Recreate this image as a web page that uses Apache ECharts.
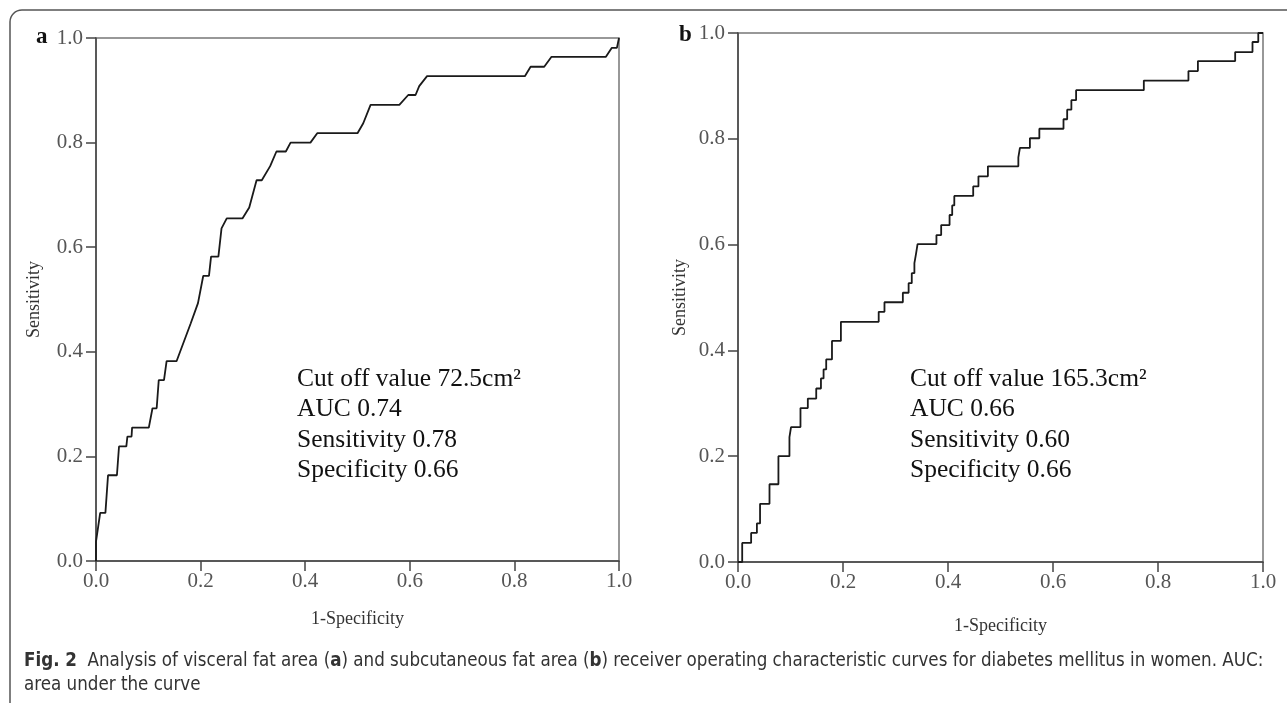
<!DOCTYPE html>
<html>
<head>
<meta charset="utf-8">
<script src="https://cdn.jsdelivr.net/npm/echarts@6/dist/echarts.min.js"></script>
<style>
  html, body { margin: 0; padding: 0; background: #fff; }
  #main { width: 1287px; height: 703px; }
</style>
</head>
<body>
<div id="main"></div>
<script>
// axis ticks, shared by both panels
var tickValues = [0, 0.2, 0.4, 0.6, 0.8, 1.0];

// panel a: visceral fat area ROC curve (1-specificity, sensitivity)
var rocAx = [0, 0, 0.008, 0.018, 0.023, 0.04, 0.044, 0.058, 0.06, 0.068, 0.069, 0.101, 0.108, 0.116,
  0.12, 0.13, 0.135, 0.154, 0.181, 0.195, 0.205, 0.216, 0.22, 0.234, 0.24, 0.25, 0.28, 0.293,
  0.307, 0.317, 0.333, 0.345, 0.363, 0.372, 0.41, 0.423, 0.5, 0.511, 0.525, 0.58, 0.597, 0.611,
  0.618, 0.633, 0.82, 0.831, 0.857, 0.871, 0.975, 0.986, 0.996, 1];
var rocAy = [0, 0.037, 0.092, 0.092, 0.164, 0.164, 0.219, 0.219, 0.238, 0.238, 0.255, 0.255, 0.292, 0.292,
  0.346, 0.346, 0.382, 0.382, 0.454, 0.493, 0.545, 0.545, 0.582, 0.582, 0.636, 0.655, 0.655, 0.676,
  0.728, 0.728, 0.755, 0.783, 0.783, 0.8, 0.8, 0.818, 0.818, 0.837, 0.872, 0.872, 0.891, 0.891,
  0.908, 0.927, 0.927, 0.945, 0.945, 0.964, 0.964, 0.981, 0.981, 1];

// panel b: subcutaneous fat area ROC curve, x where sensitivity steps up, and the new value
var rocBx = [0.008, 0.025, 0.036, 0.042, 0.06, 0.077, 0.098, 0.101, 0.119, 0.133, 0.149, 0.158, 0.163,
  0.168, 0.179, 0.196, 0.268, 0.279, 0.314, 0.325, 0.331, 0.336, 0.339, 0.342, 0.378, 0.387, 0.403,
  0.408, 0.412, 0.448, 0.458, 0.476, 0.534, 0.537, 0.556, 0.574, 0.62, 0.627, 0.635, 0.644, 0.773,
  0.858, 0.876, 0.947, 0.98, 0.991, 1.0];
var rocBy = [0.036, 0.055, 0.073, 0.110, 0.147, 0.2, 0.236, 0.255, 0.291, 0.309, 0.328, 0.347, 0.364,
  0.383, 0.418, 0.454, 0.473, 0.491, 0.509, 0.527, 0.546, 0.565, 0.582, 0.601, 0.618, 0.637, 0.656,
  0.674, 0.692, 0.71, 0.729, 0.748, 0.765, 0.783, 0.801, 0.819, 0.837, 0.855, 0.873, 0.892, 0.91,
  0.928, 0.947, 0.964, 0.983, 1.0, 1.0];

var statsA = ['Cut off value 72.5cm²', 'AUC 0.74', 'Sensitivity 0.78', 'Specificity 0.66'];
var statsB = ['Cut off value 165.3cm²', 'AUC 0.66', 'Sensitivity 0.60', 'Specificity 0.66'];

var ptsA = rocAx.map(function (x, i) { return [x, rocAy[i]]; });

// step corners for panel b
var ptsB = [[0, 0]];
var prev = 0;
rocBx.forEach(function (x, i) {
  ptsB.push([x, prev]);
  ptsB.push([x, rocBy[i]]);
  prev = rocBy[i];
});

var serif = '"Liberation Serif", "DejaVu Serif", serif';

function xAx(idx) {
  return {
    gridIndex: idx, type: 'value', min: 0, max: 1, interval: 0.2,
    name: '1-Specificity', nameLocation: 'middle', nameGap: idx === 0 ? 49 : 55,
    nameTextStyle: { fontFamily: serif, fontSize: 18, color: '#333' },
    axisLine: { lineStyle: { color: '#444', width: 1.5 } },
    axisTick: { length: 10, lineStyle: { color: '#444', width: 1.5 } },
    axisLabel: { margin: 10, fontFamily: serif, fontSize: 21, color: '#555',
      formatter: function (v) { return v.toFixed(1); } },
    splitLine: { show: false }
  };
}
function yAx(idx) {
  return {
    gridIndex: idx, type: 'value', min: 0, max: 1, interval: 0.2,
    name: 'Sensitivity', nameLocation: 'middle', nameGap: idx === 0 ? 53 : 49,
    nameTextStyle: { fontFamily: serif, fontSize: 18, color: '#333' },
    axisLine: { lineStyle: { color: '#444', width: 1.5 } },
    axisTick: { length: 10, lineStyle: { color: '#444', width: 1.5 } },
    axisLabel: { margin: 13, fontFamily: serif, fontSize: 21, color: '#555',
      formatter: function (v) { return v.toFixed(1); } },
    splitLine: { show: false }
  };
}

function statText(x, lines) {
  return {
    type: 'text', left: x, top: 364,
    style: { text: lines.join('\n'), font: '25.5px ' + serif, fill: '#111', lineHeight: 30.5 }
  };
}

var capFont = '"Liberation Sans Narrow", "DejaVu Sans Condensed", sans-serif';

var chart = echarts.init(document.getElementById('main'));
chart.setOption({
  animation: false,
  grid: [
    { left: 96, top: 38, width: 523, height: 523, show: true, borderColor: '#777', borderWidth: 1.5 },
    { left: 738, top: 33, width: 525, height: 529, show: true, borderColor: '#777', borderWidth: 1.5 }
  ],
  xAxis: [xAx(0), xAx(1)],
  yAxis: [yAx(0), yAx(1)],
  series: [
    { type: 'line', xAxisIndex: 0, yAxisIndex: 0, data: ptsA, showSymbol: false,
      lineStyle: { color: '#1a1a1a', width: 1.8 } },
    { type: 'line', xAxisIndex: 1, yAxisIndex: 1, data: ptsB, showSymbol: false,
      lineStyle: { color: '#1a1a1a', width: 1.8 } }
  ],
  graphic: [
    { type: 'rect', shape: { x: 10, y: 10, width: 1320, height: 740, r: 12 },
      style: { fill: 'none', stroke: '#555', lineWidth: 1.5 } },
    { type: 'text', left: 36, top: 26, style: { text: 'a', font: 'bold 23px ' + serif, fill: '#111' } },
    { type: 'text', left: 679, top: 24, style: { text: 'b', font: 'bold 23px ' + serif, fill: '#111' } },
    statText(297, statsA),
    statText(910, statsB),
    { type: 'text', left: 24, top: 649,
      style: {
        text: '{b|Fig. 2}  Analysis of visceral fat area ({b|a}) and subcutaneous fat area ({b|b}) receiver operating characteristic curves for diabetes mellitus in women. AUC:\narea under the curve',
        font: '18.6px ' + capFont,
        fill: '#333', lineHeight: 24,
        rich: { b: { fontWeight: 'bold', fontSize: 18.6, fontFamily: capFont, fill: '#333' } }
      } }
  ]
});
</script>
</body>
</html>
